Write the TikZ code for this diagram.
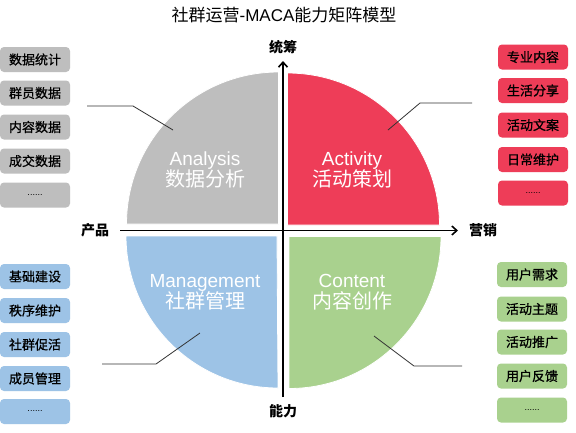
\documentclass[tikz,border=0pt]{standalone}
\usepackage{fontspec}
\setmainfont{Liberation Sans}
\newfontfamily\cjk{Noto Sans CJK SC}
\newfontfamily\cjkbox[FakeBold=0.8]{Noto Sans CJK SC}
\usetikzlibrary{arrows.meta}
\definecolor{qgray}{HTML}{BEBEBE}
\definecolor{qred}{HTML}{EE3D58}
\definecolor{qblue}{HTML}{9DC3E6}
\definecolor{qgreen}{HTML}{A9D18E}
\definecolor{lead}{HTML}{333333}
\tikzset{
  itembox/.style={rounded corners=4pt, minimum width=70pt, minimum height=25pt, inner sep=0pt,
    font=\cjkbox\fontsize{13}{13}\selectfont, text=black},
  quad/.style={draw=white, line width=0.8pt},
  qlabel/.style={text=white, align=center, font=\fontsize{19}{23}\selectfont},
  axislabel/.style={font=\cjk\bfseries\fontsize{14}{14}\selectfont, inner sep=0pt},
  axisline/.style={line width=1.8pt, -{Straight Barb[length=5pt,width=9pt,line width=1.6pt]}},
  leader/.style={draw=lead, line width=0.8pt},
  dots/.style={font=\fontsize{9}{9}\selectfont}
}
\begin{document}
\begin{tikzpicture}[x=1pt,y=-1pt]
\useasboundingbox (0,0) rectangle (576,432);
\fill[white] (0,0) rectangle (576,432);

% title
\node[font=\fontsize{17}{17}\selectfont] (title) at (284,15) {{\cjk 社群运营}-MACA{\cjk 能力矩阵模型}};

% quadrants
\fill[qgray,quad] (278.5,224) -- ++(-152,0) arc[start angle=180,end angle=270,radius=152] -- cycle;
\fill[qred,quad] (287.5,225) -- ++(0,-152) arc[start angle=270,end angle=360,radius=152] -- cycle;
\fill[qblue,quad] (277,236) -- ++(-151,0) arc[start angle=180,end angle=90,radius=152] -- cycle;
\fill[qgreen,quad] (289,236.5) -- ++(152,0) arc[start angle=0,end angle=90,radius=152] -- cycle;

% quadrant labels
\node[qlabel] (ana) at (205,170) {Analysis\\[-2pt]{\cjk\fontsize{20}{23}\selectfont 数据分析}};
\node[qlabel] (act) at (352,170) {Activity\\[-2pt]{\cjk\fontsize{20}{23}\selectfont 活动策划}};
\node[qlabel] (man) at (205,292) {Management\\[-2pt]{\cjk\fontsize{20}{23}\selectfont 社群管理}};
\node[qlabel] (con) at (352,292) {Content\\[-2pt]{\cjk\fontsize{20}{23}\selectfont 内容创作}};

% axes
\coordinate (xs) at (120,230.5);
\coordinate (xe) at (458,230.5);
\coordinate (ys) at (283,397);
\coordinate (ye) at (283,61);
\draw[axisline] (xs) -- (xe);
\draw[axisline] (ys) -- (ye);
\node[axislabel] (top) at (283,47) {统筹};
\node[axislabel] (bot) at (283,411) {能力};
\node[axislabel] (lft) at (95,230) {产品};
\node[axislabel] (rgt) at (483,230) {营销};

% left-top boxes (gray)
\foreach \t/\y/\n in {数据统计/59.5/g1, 群员数据/93/g2, 内容数据/127/g3, 成交数据/161/g4}
  \node[itembox, fill=qgray] (\n) at (35,\y) {\t};
\node[itembox, fill=qgray, dots] (g5) at (35,195) {......};

% right-top boxes (red)
\foreach \t/\y/\n in {专业内容/57/r1, 生活分享/90.5/r2, 活动文案/125/r3, 日常维护/159.5/r4}
  \node[itembox, fill=qred] (\n) at (533,\y) {\t};
\node[itembox, fill=qred, dots] (r5) at (533,193) {......};

% left-bottom boxes (blue)
\foreach \t/\y/\n in {基础建设/276.5/b1, 秩序维护/310.5/b2, 社群促活/344.5/b3, 成员管理/378.5/b4}
  \node[itembox, fill=qblue] (\n) at (35,\y) {\t};
\node[itembox, fill=qblue, dots] (b5) at (35,411.5) {......};

% right-bottom boxes (green)
\foreach \t/\y/\n in {用户需求/274.5/e1, 活动主题/309/e2, 活动推广/342/e3, 用户反馈/376/e4}
  \node[itembox, fill=qgreen] (\n) at (532,\y) {\t};
\node[itembox, fill=qgreen, dots] (e5) at (532,410) {......};

% leader lines
\coordinate (la1) at (87,106);
\coordinate (la2) at (133,106);
\coordinate (la3) at (173,130);
\draw[leader] (la1) -- (la2) -- (la3);
\coordinate (lb1) at (388,130);
\coordinate (lb2) at (420,103);
\coordinate (lb3) at (472,103);
\draw[leader] (lb1) -- (lb2) -- (lb3);
\coordinate (lc1) at (200,333);
\coordinate (lc2) at (156,364);
\coordinate (lc3) at (102,364);
\draw[leader] (lc1) -- (lc2) -- (lc3);
\coordinate (ld1) at (374,336);
\coordinate (ld2) at (414,366);
\coordinate (ld3) at (462,366);
\draw[leader] (ld1) -- (ld2) -- (ld3);
\end{tikzpicture}
\end{document}
